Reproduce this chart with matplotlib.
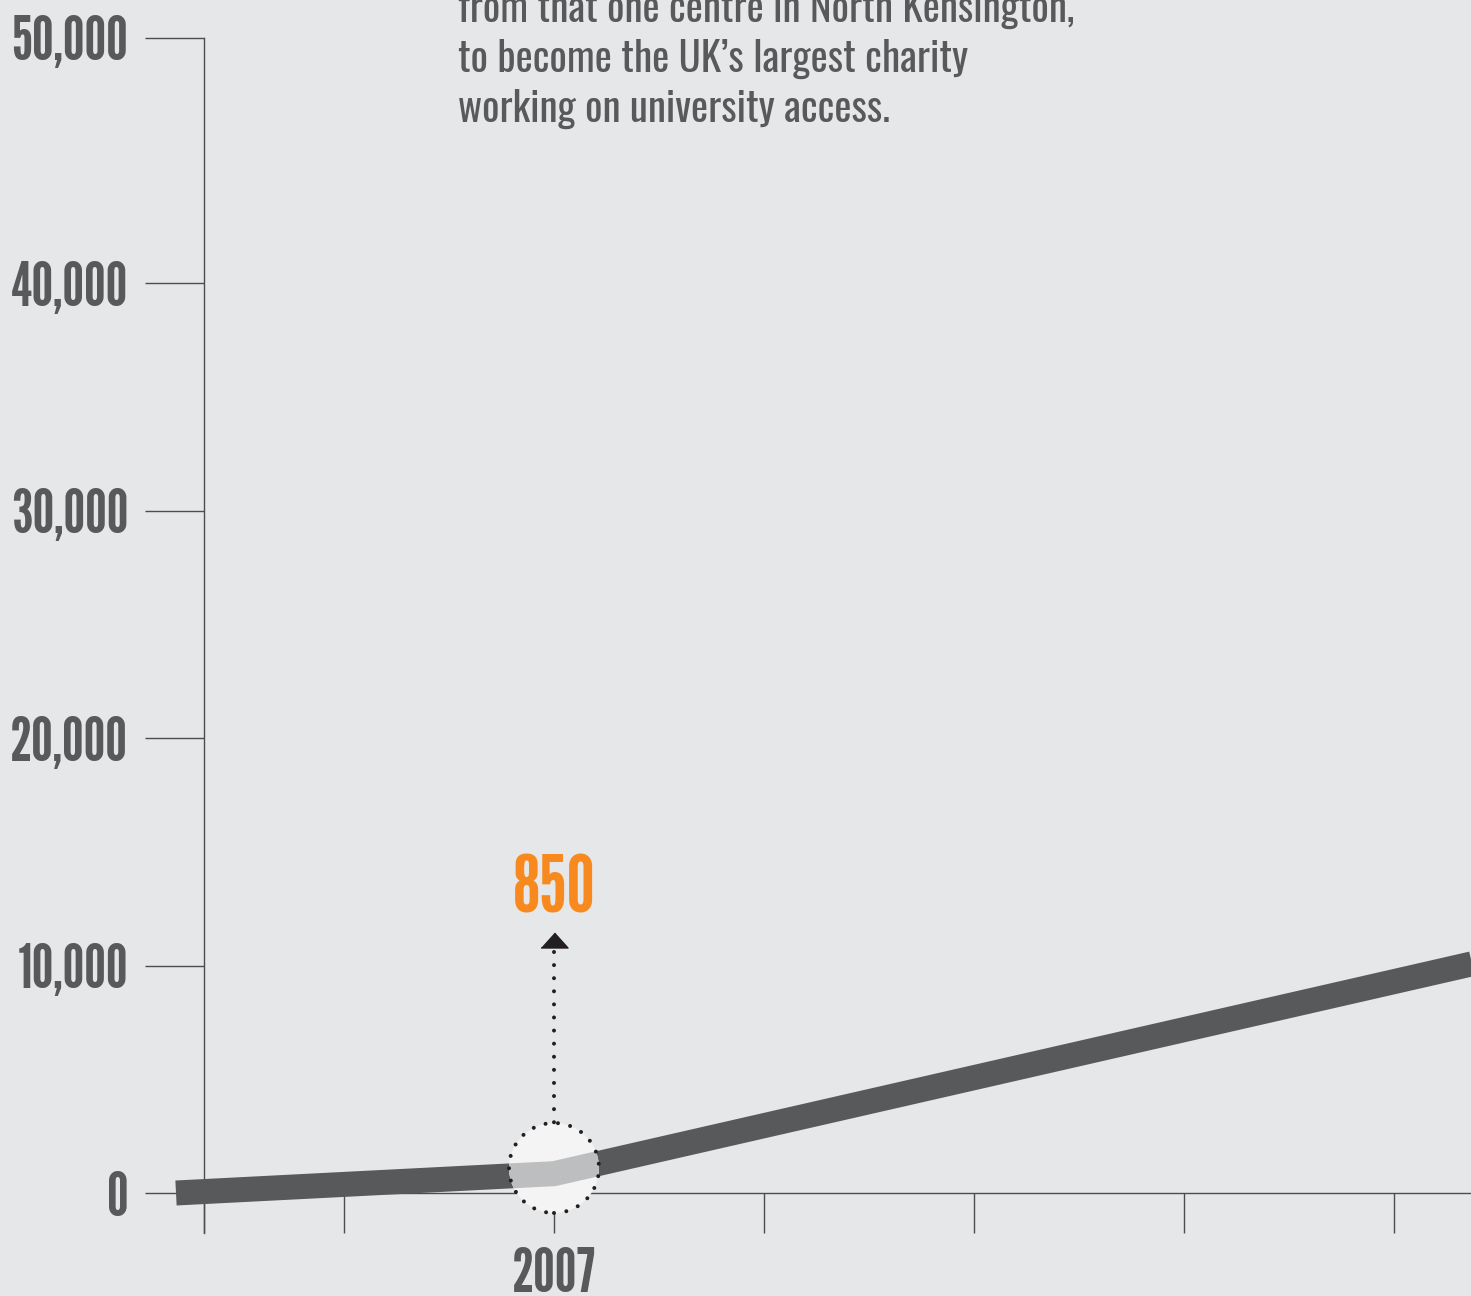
import matplotlib
matplotlib.use("Agg")
import matplotlib.pyplot as plt
from matplotlib.patches import Circle
from matplotlib.transforms import Affine2D, ScaledTranslation, IdentityTransform

# Students reached each year (line runs on past the right edge)
years = [2005.2, 2007, 2011.5]
students = [0, 850, 10350]

highlight_year = 2007
highlight_value = 850

y_ticks = [0, 10000, 20000, 30000, 40000, 50000]
y_tick_labels = ["0", "10,000", "20,000", "30,000", "40,000", "50,000"]
x_ticks = [2005.333, 2006, 2007, 2008, 2009, 2010, 2011]
x_tick_labels = ["", "", "2007", "", "", "", ""]

intro_lines = [
    "from that one centre in North Kensington,",
    "to become the UK\u2019s largest charity",
    "working on university access.",
]

BG = "#e6e7e8"
GREY = "#58595b"
LIGHT = "#bcbec0"
ORANGE = "#f7891f"
INK = "#231f20"
AXIS = "#4d4d4f"

plt.rcParams["font.family"] = ["League Gothic", "DejaVu Sans"]
body_font = ["Oswald", "DejaVu Sans"]

W, H, DPI = 1471, 1296, 100
fig = plt.figure(figsize=(W / DPI, H / DPI), dpi=DPI, facecolor=BG)
ax = fig.add_axes([0, 0, 1, 1], facecolor=BG)

# 210 px per year, 2007 sits at x=554; 0 students at y=1193, 227.4 px per 10k
px_year = 210
px_unit = 227.4 / 10000
ax.set_xlim(2007 - 554 / px_year, 2007 + (W - 554) / px_year)
ax.set_ylim(-(H - 1193) / px_unit, 1193 / px_unit)

axis_x = x_ticks[0]
axis_top = 50800
for s in ["top", "right"]:
    ax.spines[s].set_visible(False)
ax.spines["left"].set_position(("data", axis_x))
ax.spines["left"].set_bounds(-40 / px_unit, axis_top)
ax.spines["bottom"].set_position(("data", 0))
ax.spines["bottom"].set_bounds(axis_x, ax.get_xlim()[1])
for s in ["left", "bottom"]:
    ax.spines[s].set_color(AXIS)
    ax.spines[s].set_linewidth(1.0)

ax.set_yticks(y_ticks[:-1] + [axis_top])
ax.set_yticklabels(y_tick_labels)
ax.set_xticks(x_ticks)
ax.set_xticklabels(x_tick_labels)
ax.tick_params(axis="y", length=42.5, width=1.0, color=AXIS, pad=12,
               labelsize=44, labelcolor=GREY)
ax.tick_params(axis="x", length=28.8, width=1.0, color=AXIS, pad=10,
               labelsize=44, labelcolor=GREY)

# main line
ax.plot(years, students, color=GREY, lw=18, solid_capstyle="butt",
        solid_joinstyle="miter", zorder=3)

# highlight bubble around the 2007 point, sized in points from the data point
pt = fig.dpi / 72
local = Affine2D().scale(pt) + ScaledTranslation(highlight_year, highlight_value, ax.transData)

bubble = Circle((0, 4.1), 32.4, transform=local, facecolor="#f4f4f4",
                edgecolor="none", zorder=4)
ax.add_patch(bubble)
inner, = ax.plot(years, students, color=LIGHT, lw=18, solid_capstyle="butt",
                 solid_joinstyle="miter", zorder=5)
inner.set_clip_path(bubble)

ring = Circle((0, 4.1), 32.4, transform=local, fill=False, edgecolor=INK,
              lw=2.9, linestyle=(0, (0.001, 3.1)), zorder=6)
ring.set_capstyle("round")
ax.add_patch(ring)

# dotted pointer up to the value
ax.plot([0, 0], [159.6, 36.5], transform=local, color=INK, lw=2.9,
        linestyle=(0, (0.001, 3.25)), dash_capstyle="round", zorder=6, clip_on=False)
ax.plot([0], [168.5], transform=local, marker=[(-0.9, -0.5), (0.9, -0.5), (0, 0.5)],
        markersize=19.4, color=INK, linestyle="none", zorder=6, clip_on=False)
ax.text(0, 188.4, f"{highlight_value:,}", transform=local, ha="center", va="baseline",
        fontsize=57.5, color=ORANGE, zorder=7)

# intro copy at the top
for i, line in enumerate(intro_lines):
    fig.text(458, H - (22 + 50 * i), line, transform=IdentityTransform(),
             ha="left", va="baseline", fontsize=29.5, color=GREY, family=body_font)

fig.savefig("out.png", dpi=DPI, facecolor=BG)
